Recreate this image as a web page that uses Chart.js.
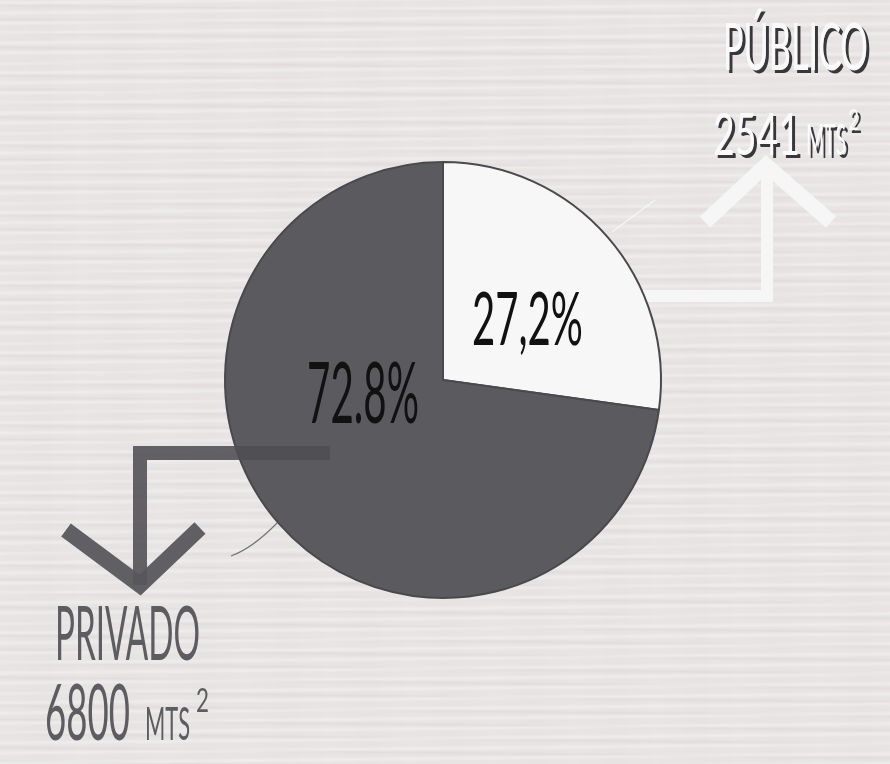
<!DOCTYPE html>
<html>
<head>
<meta charset="utf-8">
<script src="https://cdn.jsdelivr.net/npm/chart.js@4.4.1/dist/chart.umd.min.js"></script>
<style>
  html, body { margin: 0; padding: 0; }
  body {
    width: 890px; height: 764px; overflow: hidden;
    background-color: #e6e3e2;
    background-image:
      repeating-linear-gradient(179.4deg, rgba(255,255,255,0) 0px, rgba(255,255,255,0.32) 3px, rgba(255,255,255,0) 6px, rgba(255,255,255,0) 10px),
      repeating-linear-gradient(180.7deg, rgba(205,200,198,0) 0px, rgba(205,200,198,0.22) 2px, rgba(205,200,198,0) 5px, rgba(205,200,198,0) 14px),
      repeating-linear-gradient(90deg, rgba(255,255,255,0.07) 0px, rgba(255,255,255,0) 41px, rgba(255,255,255,0.07) 82px);
  }
  #wrap { position: relative; width: 890px; height: 764px; }
</style>
</head>
<body>
<div id="wrap"><canvas id="graficoArea" width="890" height="764"></canvas></div>
<script>
// Datos de la gráfica
const categorias = ['PÚBLICO', 'PRIVADO'];
const areas = [2541, 6800];          // mts²
const porcentajes = ['27,2%', '72.8%'];
const coloresSlice = ['#f7f7f7', '#5b5a5f'];

const FUENTE = '400 {s}px "Lato", "DejaVu Sans", sans-serif';

// Texto en fuente "condensada": se escala horizontalmente hasta el ancho pedido
function textoAjustado(ctx, texto, x, y, size, ancho, color) {
    ctx.save();
    ctx.font = FUENTE.replace('{s}', size);
    ctx.textBaseline = 'alphabetic';
    ctx.textAlign = 'left';
    const escala = ancho / ctx.measureText(texto).width;
    ctx.translate(x, y);
    ctx.scale(escala, 1);
    ctx.fillStyle = color;
    ctx.fillText(texto, 0, 0);
    ctx.restore();
}

function trazo(ctx, puntos, color, ancho) {
    ctx.save();
    ctx.strokeStyle = color;
    ctx.lineWidth = ancho;
    ctx.lineCap = 'butt';
    ctx.lineJoin = 'miter';
    ctx.beginPath();
    ctx.moveTo(puntos[0][0], puntos[0][1]);
    for (let i = 1; i < puntos.length; i++) ctx.lineTo(puntos[i][0], puntos[i][1]);
    ctx.stroke();
    ctx.restore();
}

// Flecha blanca (público) por debajo del pastel
const flechaPublico = {
    id: 'flechaPublico',
    beforeDatasetsDraw(chart) {
        const ctx = chart.ctx;
        const arc = chart.getDatasetMeta(0).data[0];
        const cx = arc.x, cy = arc.y;
        trazo(ctx, [[cx + 160, cy - 84], [cx + 324, cy - 84], [cx + 324, cy - 212]], '#f6f6f6', 12);
        trazo(ctx, [[cx + 262, cy - 158], [cx + 323, cy - 215], [cx + 388, cy - 158]], '#f6f6f6', 15);
        trazo(ctx, [[cx + 169, cy - 148], [cx + 212, cy - 180]], 'rgba(250,250,250,0.8)', 1.5);
    }
};

// Flecha oscura (privado), porcentajes y rótulos
const rotulos = {
    id: 'rotulos',
    afterDatasetsDraw(chart) {
        const ctx = chart.ctx;
        const arc = chart.getDatasetMeta(0).data[0];
        const cx = arc.x, cy = arc.y;

        trazo(ctx, [[cx - 113, cy + 73], [cx - 303, cy + 73], [cx - 303, cy + 205]], 'rgba(78,77,82,0.88)', 14);
        trazo(ctx, [[cx - 377, cy + 150], [cx - 303, cy + 205], [cx - 243, cy + 148]], 'rgba(88,87,92,0.95)', 16);
        ctx.save();
        ctx.strokeStyle = 'rgba(90,90,95,0.8)';
        ctx.lineWidth = 1.2;
        ctx.beginPath();
        ctx.moveTo(cx - 165, cy + 142);
        ctx.quadraticCurveTo(cx - 190, cy + 168, cx - 212, cy + 176);
        ctx.stroke();
        ctx.restore();

        // Porcentajes dentro del pastel
        textoAjustado(ctx, porcentajes[0], 472, 345, 73, 111, '#111111');
        textoAjustado(ctx, porcentajes[1], 307, 423, 86, 112, '#111111');

        // Rótulo público (blanco con sombra)
        ['#38373c', '#fafafa'].forEach(function (col, k) {
            const d = k === 0 ? 3 : 0;
            textoAjustado(ctx, categorias[0], 723 + d, 70 + d, 66, 145, col);
            textoAjustado(ctx, String(areas[0]), 713 + d, 155 + d, 58, 87, col);
            textoAjustado(ctx, 'MTS', 806 + d, 155 + d, 42, 40, col);
            textoAjustado(ctx, '2', 848 + d, 130 + d, 28, 11, col);
        });

        // Rótulo privado
        const gris = '#5d5c61';
        textoAjustado(ctx, categorias[1], 55, 660, 75, 145, gris);
        textoAjustado(ctx, String(areas[1]), 45, 740, 77, 85, gris);
        textoAjustado(ctx, 'MTS', 145, 740, 46, 45, gris);
        textoAjustado(ctx, '2', 196, 712, 32, 13, gris);
    }
};

const ctx = document.getElementById('graficoArea').getContext('2d');
const grafico = new Chart(ctx, {
    type: 'pie',
    data: {
        labels: categorias,
        datasets: [{
            data: areas,
            backgroundColor: coloresSlice,
            borderColor: '#4a494d',
            borderWidth: 2
        }]
    },
    options: {
        responsive: false,
        animation: false,
        layout: {
            padding: { left: 224, right: 228, top: 161, bottom: 165 }
        },
        plugins: {
            legend: { display: false },
            tooltip: { enabled: false }
        }
    },
    plugins: [flechaPublico, rotulos]
});
</script>
</body>
</html>
